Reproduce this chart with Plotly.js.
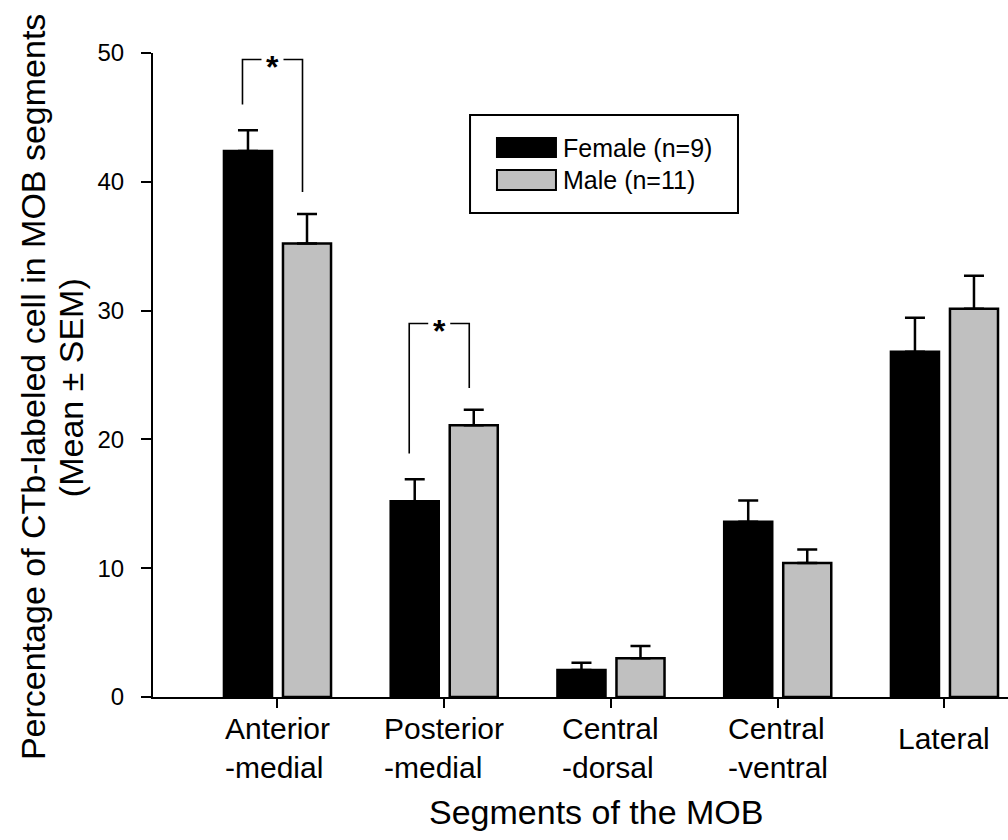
<!DOCTYPE html>
<html>
<head>
<meta charset="utf-8">
<script src="https://cdn.plot.ly/plotly-3.0.1.min.js"></script>
<style>html,body{margin:0;padding:0;background:#fff;}#chart{width:1008px;height:840px;}</style>
</head>
<body>
<div id="chart"></div>
<script>
// ---- data ----
const categories = ['Anterior-medial', 'Posterior-medial', 'Central-dorsal', 'Central-ventral', 'Lateral'];
const tickLabels = ['Anterior<br>-medial', 'Posterior<br>-medial', 'Central<br>-dorsal', 'Central<br>-ventral', 'Lateral'];
const seriesNames = ['Female (n=9)', 'Male (n=11)'];
const femaleMean = [42.4, 15.2, 2.1, 13.6, 26.8];
const femaleSem  = [1.6, 1.7, 0.55, 1.65, 2.65];
const maleMean   = [35.2, 21.1, 3.0, 10.4, 30.15];
const maleSem    = [2.3, 1.2, 0.95, 1.05, 2.55];
const sigCategories = ['Anterior-medial', 'Posterior-medial'];
const sigLevels = [49.5, 29.0];
const sigMark = '*';
const yTicks = [0, 10, 20, 30, 40, 50];
const yTitleLines = ['Percentage of CTb-labeled cell in MOB segments', '(Mean ± SEM)'];
const xTitle = 'Segments of the MOB';

// ---- build ----
const FONT = 'Liberation Sans, Arial, sans-serif';
const xIdx = categories.map((c, i) => i);
const zeros = categories.map(() => 0);

function barTrace(name, y, err, color) {
  return {
    type: 'bar', name: name, x: xIdx, y: y,
    marker: {color: color, line: {color: '#000', width: 2.5}},
    error_y: {type: 'data', symmetric: false, array: err, arrayminus: zeros,
              color: '#000', thickness: 2.5, width: 10},
    showlegend: false, hoverinfo: 'skip'
  };
}
const traces = [
  barTrace(seriesNames[0], femaleMean, femaleSem, '#000000'),
  barTrace(seriesNames[1], maleMean, maleSem, '#c0c0c0')
];

const shapes = [];
const annotations = [];

// significance brackets
sigCategories.forEach((c, k) => {
  const i = categories.indexOf(c);
  const top = sigLevels[k];
  const lx = i - 0.21, rx = i + 0.15, mid = (lx + rx) / 2, gap = 0.066;
  const lb = femaleMean[i] + femaleSem[i] + 2.0;
  const rb = maleMean[i] + maleSem[i] + 1.7;
  const line = {color: '#000', width: 1.6};
  shapes.push({type: 'path', xref: 'x', yref: 'y', line: line,
    path: `M${lx},${lb} L${lx},${top} L${mid - gap},${top}`});
  shapes.push({type: 'path', xref: 'x', yref: 'y', line: line,
    path: `M${mid + gap},${top} L${rx},${top} L${rx},${rb}`});
  annotations.push({xref: 'x', yref: 'y', x: mid, y: top, text: '<b>' + sigMark + '</b>', showarrow: false,
    xanchor: 'center', yanchor: 'middle', yshift: -8, font: {family: FONT, size: 32, color: '#000'}});
});

// category labels
tickLabels.forEach((t, i) => {
  const multi = t.indexOf('<br>') >= 0;
  annotations.push({xref: 'x', yref: 'paper', x: i, y: multi ? -0.0200 : -0.064,
    text: t, showarrow: false, xanchor: 'center', yanchor: multi ? 'top' : 'middle',
    align: 'left', font: {family: FONT, size: 30, color: '#000'}});
});

// axis titles
annotations.push({xref: 'paper', yref: 'paper', x: 0.519, y: -0.178, text: xTitle, showarrow: false,
  xanchor: 'center', yanchor: 'middle', font: {family: FONT, size: 34, color: '#000'}});
const yTitleX = [-0.1405, -0.096];
yTitleLines.forEach((t, k) => {
  annotations.push({xref: 'paper', yref: 'paper', x: yTitleX[k], y: 0.481, text: t, showarrow: false,
    textangle: -90, xanchor: 'center', yanchor: 'middle', font: {family: FONT, size: 34, color: '#000'}});
});

// legend
shapes.push({type: 'rect', xref: 'paper', yref: 'paper', x0: 0.3708, x1: 0.6842, y0: 0.7516, y1: 0.9037,
  line: {color: '#000', width: 2}, fillcolor: '#fff', layer: 'above'});
const swY = [[0.8385, 0.868], [0.7873, 0.8183]];
const swC = ['#000000', '#c0c0c0'];
seriesNames.forEach((n, k) => {
  shapes.push({type: 'rect', xref: 'paper', yref: 'paper', x0: 0.4023, x1: 0.4713, y0: swY[k][0], y1: swY[k][1],
    line: {color: '#000', width: 2}, fillcolor: swC[k], layer: 'above'});
  annotations.push({xref: 'paper', yref: 'paper', x: 0.4768, y: (swY[k][0] + swY[k][1]) / 2, text: n,
    showarrow: false, xanchor: 'left', yanchor: 'middle', font: {family: FONT, size: 25, color: '#000'}});
});

const layout = {
  width: 1008, height: 840,
  margin: {l: 153, r: 0, t: 53, b: 143, pad: 0},
  paper_bgcolor: '#fff', plot_bgcolor: '#fff',
  barmode: 'group', bargap: 0.292, bargroupgap: 0.186,
  showlegend: false,
  font: {family: FONT, color: '#000'},
  xaxis: {type: 'linear', range: [-0.7466, 4.381], tickvals: xIdx, showticklabels: false,
    ticks: 'outside', ticklen: 9, tickwidth: 2, tickcolor: '#000',
    showline: true, linewidth: 2, linecolor: '#000', showgrid: false, zeroline: false},
  yaxis: {range: [0, 50], tickvals: yTicks, ticktext: yTicks.map(String),
    ticks: 'outside', ticklen: 10, tickwidth: 2, tickcolor: '#000', ticklabelstandoff: 12,
    tickfont: {family: FONT, size: 24, color: '#000'},
    showline: true, linewidth: 2, linecolor: '#000', showgrid: false, zeroline: false},
  shapes: shapes,
  annotations: annotations
};

Plotly.newPlot('chart', traces, layout, {displayModeBar: false, staticPlot: true});
</script>
</body>
</html>
